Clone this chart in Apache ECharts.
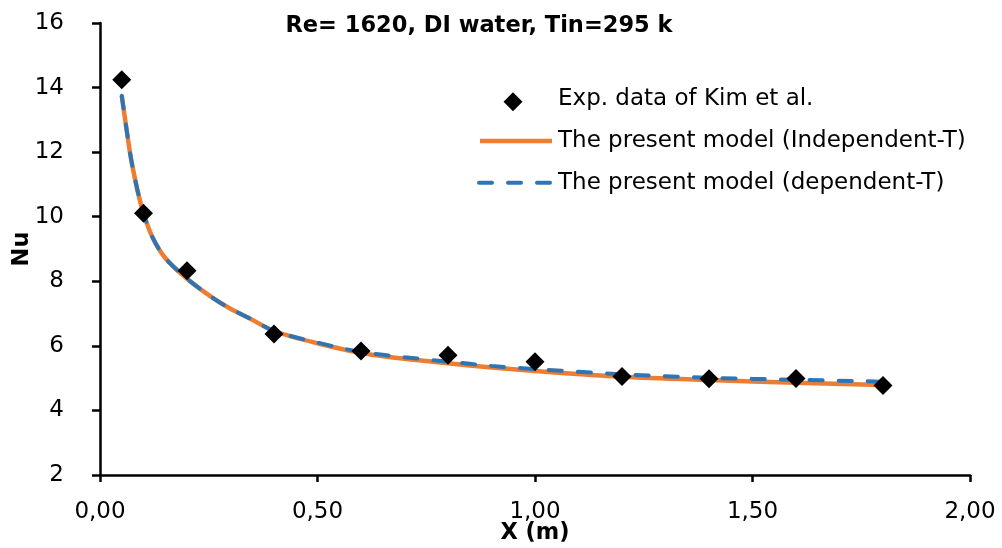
<!DOCTYPE html>
<html>
<head>
<meta charset="utf-8">
<script src="https://cdn.jsdelivr.net/npm/echarts@6/dist/echarts.min.js"></script>
<style>
  html, body { margin: 0; padding: 0; background: #fff; }
  #chart { width: 1002px; height: 548px; }
</style>
</head>
<body>
<div id="chart"></div>
<script>
// Local Nusselt number along the channel, Re = 1620, DI water
const chartTitle = 'Re= 1620, DI water, Tin=295 k';
const xAxisName = 'X (m)';
const yAxisName = 'Nu';

// Experimental points (Kim et al.)
const xExp  = [0.05, 0.10, 0.20, 0.40, 0.60, 0.80, 1.00, 1.20, 1.40, 1.60, 1.80];
const nuExp = [14.24, 10.11, 8.33, 6.37, 5.84, 5.71, 5.51, 5.05, 4.98, 4.99, 4.77];

// Model curves
const xModel        = [0.05, 0.06, 0.07, 0.08, 0.09, 0.10, 0.12, 0.15, 0.20, 0.26, 0.30, 0.34, 0.40, 0.50, 0.60, 0.70, 0.80, 0.90, 1.00, 1.20, 1.40, 1.60, 1.80];
const nuIndependent = [13.75, 12.80, 11.90, 11.20, 10.60, 10.10, 9.38, 8.72, 8.08, 7.48, 7.15, 6.88, 6.46, 6.08, 5.78, 5.60, 5.46, 5.33, 5.22, 5.04, 4.94, 4.86, 4.79];
const nuDependent   = [13.75, 12.80, 11.90, 11.20, 10.60, 10.10, 9.38, 8.72, 8.08, 7.48, 7.15, 6.88, 6.46, 6.10, 5.81, 5.65, 5.51, 5.38, 5.28, 5.12, 5.01, 4.95, 4.89];

const seriesNames = [
  'Exp. data of Kim et al.',
  'The present model (Independent-T)',
  'The present model (dependent-T)'
];

const pairs = (xs, ys) => xs.map((x, i) => [x, ys[i]]);

const FONT = 'DejaVu Sans';
const ORANGE = '#ED7D31';
const BLUE = '#2E75B6';
const chart = echarts.init(document.getElementById('chart'), null, { renderer: 'canvas' });

// Key drawn as plain graphics so each entry keeps its own marker shape
const keyText = (y, text) => ({
  type: 'text', x: 558, y: y,
  style: { text: text, fontFamily: FONT, fontSize: 23, fill: '#000', verticalAlign: 'middle', align: 'left' }
});
const legendGraphics = [
  { type: 'polygon', shape: { points: [[513, 92.2], [522.5, 101.7], [513, 111.2], [503.5, 101.7]] }, style: { fill: '#000' } },
  keyText(99, seriesNames[0]),
  { type: 'line', shape: { x1: 480, y1: 141, x2: 552, y2: 141 }, style: { stroke: ORANGE, lineWidth: 4.5 } },
  keyText(141, seriesNames[1]),
  { type: 'line', shape: { x1: 550, y1: 182.7, x2: 478, y2: 182.7 }, style: { stroke: BLUE, lineWidth: 4, lineDash: [13, 16], lineCap: 'round' } },
  keyText(183, seriesNames[2])
];

chart.setOption({
  animation: false,
  backgroundColor: '#ffffff',
  title: {
    text: chartTitle,
    left: 474,
    top: 10,
    textAlign: 'center',
    textStyle: { fontFamily: FONT, fontWeight: 'bold', fontSize: 22.5, color: '#000' }
  },
  grid: { left: 100, right: 32, top: 23, bottom: 73, containLabel: false, outerBoundsMode: 'none' },
  graphic: legendGraphics,
  xAxis: {
    type: 'value',
    min: 0, max: 2, interval: 0.5,
    name: xAxisName,
    nameLocation: 'middle',
    nameGap: 47,
    nameMoveOverlap: false,
    nameTextStyle: { fontFamily: FONT, fontWeight: 'bold', fontSize: 22.5, color: '#000' },
    axisLine: { onZero: false, lineStyle: { color: '#000', width: 2.5 } },
    axisTick: { show: true, inside: false, length: 7, lineStyle: { color: '#000', width: 2.5 } },
    axisLabel: {
      margin: 26,
      fontFamily: FONT, fontSize: 23, color: '#000',
      formatter: v => v.toFixed(2).replace('.', ',')
    },
    splitLine: { show: false }
  },
  yAxis: {
    type: 'value',
    min: 2, max: 16, interval: 2,
    name: yAxisName,
    nameLocation: 'middle',
    nameGap: 66,
    nameMoveOverlap: false,
    nameTextStyle: { fontFamily: FONT, fontWeight: 'bold', fontSize: 22.5, color: '#000' },
    axisLine: { show: true, onZero: false, lineStyle: { color: '#000', width: 2.5 } },
    axisTick: { show: true, inside: false, length: 8, lineStyle: { color: '#000', width: 2.5 } },
    axisLabel: {
      margin: 24,
      align: 'right',
      formatter: v => '{v|' + v + '}',
      rich: {
        v: { fontFamily: FONT, fontSize: 23, color: '#000', padding: [0, 12, 0, 0] }
      }
    },
    splitLine: { show: false }
  },
  series: [
    {
      name: seriesNames[1],
      type: 'line',
      data: pairs(xModel, nuIndependent),
      smooth: 0.3,
      showSymbol: false,
      symbol: 'none',
      lineStyle: { color: ORANGE, width: 4.5, type: 'solid' },
      itemStyle: { color: ORANGE },
      z: 2
    },
    {
      name: seriesNames[2],
      type: 'line',
      data: pairs(xModel, nuDependent),
      smooth: 0.3,
      showSymbol: false,
      symbol: 'none',
      lineStyle: { color: BLUE, width: 4, type: [13, 16], cap: 'round' },
      itemStyle: { color: BLUE },
      z: 3
    },
    {
      name: seriesNames[0],
      type: 'scatter',
      data: pairs(xExp, nuExp),
      symbol: 'diamond',
      symbolSize: 19,
      itemStyle: { color: '#000', opacity: 1 },
      z: 5
    }
  ]
});
</script>
</body>
</html>
